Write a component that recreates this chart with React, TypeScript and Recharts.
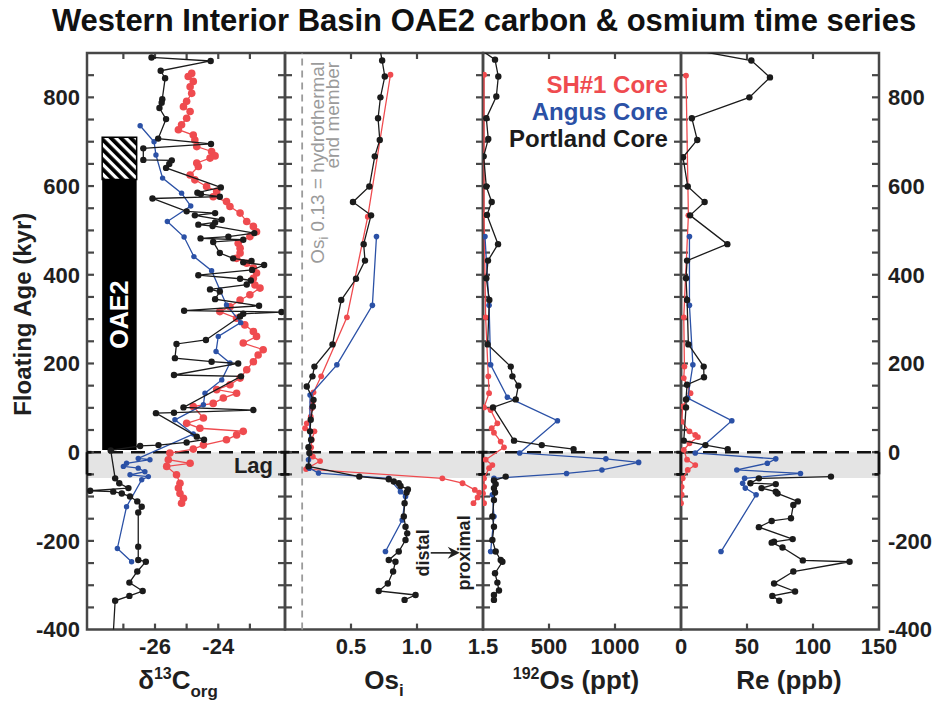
import React from 'react';
import {
  ComposedChart,
  Scatter,
  XAxis,
  YAxis,
  ReferenceArea,
  ReferenceLine,
  ReferenceDot,
} from 'recharts';

const W = 938;
const H = 703;
const PLOT_TOP = 53;
const PLOT_BOTTOM = 629.6;
const X_AXIS_H = 62;
const EDGES = [87, 285, 483, 681, 879];

const FRAME = '#474747';
const INK = '#1f1f1f';
const RED = '#ef4b4f';
const BLUE = '#2b51a6';
const BLACK = '#1b1b1b';

type Pt = [number, number]; // [age kyr, value]

const AGE_DOMAIN: [number, number] = [-400, 900];
const AGE_LABELS = [-400, -200, 0, 200, 400, 600, 800];
const AGE_MINOR = [
  -350, -300, -250, -200, -150, -100, -50, 0, 50, 100, 150, 200, 250, 300, 350,
  400, 450, 500, 550, 600, 650, 700, 750, 800, 850,
];
const LAG: [number, number] = [-58, 0];
const OAE2_SPAN: [number, number] = [5, 615];
const OAE2_HATCH: [number, number] = [615, 710];

const CORES = [
  { name: 'SH#1 Core', color: RED },
  { name: 'Angus Core', color: BLUE },
  { name: 'Portland Core', color: BLACK },
];

// δ13C org (‰)
const c13SH1: Pt[] = [
  [854, -24.84], [847, -24.95], [836, -24.79], [824, -24.89], [809, -24.84], [791, -25.0],
  [779, -25.1], [768, -24.89], [753, -25.0], [738, -25.16], [727, -25.26], [715, -24.79],
  [704, -24.74], [689, -24.68], [678, -24.21], [668, -24.1], [663, -24.26], [652, -24.68],
  [644, -24.63], [625, -24.89], [614, -24.74], [599, -24.37], [588, -24.05], [576, -24.16],
  [565, -23.74], [554, -23.63], [539, -23.31], [520, -23.1], [509, -22.89], [497, -22.79],
  [486, -23.0], [471, -23.37], [460, -23.31], [449, -23.31], [437, -23.42], [426, -23.1],
  [415, -22.89], [404, -22.79], [392, -22.89], [377, -22.84], [370, -22.68], [355, -23.0],
  [343, -23.31], [328, -23.63], [317, -23.95], [302, -23.42], [287, -23.16], [272, -22.89],
  [261, -22.79], [246, -23.21], [231, -22.58], [219, -22.74], [204, -22.89], [186, -23.1],
  [167, -23.31], [152, -23.63], [141, -24.05], [133, -23.42], [122, -23.84], [110, -24.16],
  [103, -24.79], [77, -24.47], [65, -25.0], [54, -24.58], [47, -23.21], [39, -23.42],
  [28, -23.74], [16, -24.47], [7, -24.79], [-2, -25.53], [-17, -25.58], [-25, -24.89],
  [-32, -25.63], [-51, -25.32], [-70, -25.21], [-81, -25.26], [-93, -25.21], [-104, -25.1],
  [-115, -25.16],
];
const c13Angus: Pt[] = [
  [736, -26.47], [700, -26.03], [670, -25.97], [618, -25.76], [584, -25.16], [555, -24.87],
  [520, -25.61], [485, -25.08], [441, -24.77], [409, -24.21], [366, -23.95], [332, -23.74],
  [292, -23.29], [261, -24.0], [227, -24.07], [201, -23.63], [163, -23.89], [133, -24.42],
  [107, -24.47], [73, -25.37], [41, -24.79], [-14, -26.53], [-17, -26.16], [-25, -26.9],
  [-32, -27.0], [-36, -26.53], [-44, -26.32], [-51, -26.79], [-55, -26.21], [-62, -26.42],
  [-123, -26.9], [-217, -27.19], [-247, -26.74],
];
const c13Portland: Pt[] = [
  [890, -26.11], [882, -24.24], [860, -25.82], [843, -25.68], [796, -25.77], [788, -25.79],
  [776, -25.86], [751, -25.65], [707, -25.9], [695, -24.23], [685, -26.37], [659, -26.37],
  [658, -25.47], [650, -25.55], [641, -25.65], [597, -23.92], [585, -24.66], [582, -24.55],
  [576, -23.95], [572, -26.08], [543, -25.0], [539, -24.1], [534, -24.74], [524, -23.89],
  [518, -24.1], [513, -24.63], [510, -24.18], [494, -22.86], [486, -23.68], [482, -24.56],
  [479, -23.21], [474, -24.16], [449, -23.95], [437, -23.53], [431, -22.95], [428, -23.21],
  [422, -22.55], [411, -22.93], [399, -24.63], [391, -23.31], [387, -22.97], [378, -23.1],
  [367, -24.26], [362, -23.95], [345, -24.1], [330, -22.71], [319, -25.08], [316, -22.0],
  [312, -23.21], [306, -23.31], [253, -24.39], [244, -25.32], [212, -25.37], [204, -24.21],
  [200, -23.37], [174, -25.4], [171, -23.28], [101, -25.1], [95, -22.89], [89, -25.4],
  [88, -25.97], [35, -24.68], [28, -24.45], [22, -25.0], [16, -25.89], [14, -26.47],
  [4, -27.4], [-59, -27.26], [-70, -27.13], [-81, -26.84], [-87, -28.05], [-89, -27.32],
  [-93, -27.05], [-100, -26.79], [-111, -26.56], [-123, -26.42], [-136, -26.53], [-213, -26.53],
  [-243, -26.53], [-247, -26.29], [-269, -26.56], [-294, -26.81], [-313, -26.39], [-324, -26.81],
  [-335, -27.26], [-410, -27.32],
];

// Os initial
const osiSH1: Pt[] = [
  [851, 0.799], [531, 0.627], [304, 0.469], [171, 0.274], [135, 0.216], [113, 0.208],
  [99, 0.203], [80, 0.195], [65, 0.165], [54, 0.152], [47, 0.223], [28, 0.203], [11, 0.198],
  [-10, 0.211], [-20, 0.266], [-38, 0.16], [-59, 1.192], [-70, 1.345], [-85, 1.438],
  [-91, 1.471], [-102, 1.459], [-115, 1.428],
];
const osiAngus: Pt[] = [
  [486, 0.693], [331, 0.662], [197, 0.393], [129, 0.19], [-2, 0.185], [-17, 0.178],
  [-36, 0.185], [-47, 0.254], [-59, 0.786], [-89, 0.875], [-100, 0.913], [-153, 0.888],
  [-224, 0.761],
];
const osiPortland: Pt[] = [
  [915, 0.715], [883, 0.736], [847, 0.756], [800, 0.723], [753, 0.705], [704, 0.718],
  [667, 0.68], [599, 0.639], [564, 0.515], [534, 0.652], [469, 0.596], [432, 0.606],
  [391, 0.538], [343, 0.426], [243, 0.36], [193, 0.223], [171, 0.208], [148, 0.165],
  [118, 0.216], [103, 0.211], [73, 0.195], [47, 0.19], [28, 0.198], [11, 0.178], [-2, 0.185],
  [-32, 0.178], [-55, 0.563], [-61, 0.786], [-66, 0.824], [-70, 0.862], [-76, 0.875],
  [-84, 0.931], [-91, 0.921], [-115, 0.906], [-145, 0.9], [-168, 0.913], [-183, 0.926],
  [-198, 0.913], [-224, 0.862], [-243, 0.786], [-247, 0.837], [-269, 0.819], [-296, 0.779],
  [-313, 0.71], [-322, 0.989], [-333, 0.906],
];

// 192Os (ppt)
const os192SH1: Pt[] = [
  [851, 8], [534, 8], [304, 20], [171, 40], [133, 46], [101, 8], [95, 58], [65, 109], [54, 66],
  [44, 83], [24, 134], [11, 159], [-17, 20], [-29, 71], [-36, 46], [-59, 8], [-78, 8],
  [-93, 0], [-115, 8],
];
const os192Angus: Pt[] = [
  [486, 15], [331, 46], [197, 58], [124, 185], [71, 564], [-2, 278], [-15, 931], [-23, 1179],
  [-40, 901], [-48, 633], [-59, 83], [-96, 71], [-145, 83], [-224, 58],
];
const os192PortlandUpper: Pt[] = [
  [908, -20], [885, 91], [847, 116], [802, 101], [753, 25], [706, 40], [667, 5], [599, 25],
  [564, 66], [535, 30], [469, 114], [432, 38], [392, 25], [343, 48], [243, 35], [193, 210],
  [171, 223], [150, 268], [119, 248], [101, 76], [26, 235], [16, 445], [7, 686],
];
const os192PortlandLower: Pt[] = [
  [-55, 172], [-64, 83], [-72, 96], [-81, 83], [-91, 91], [-108, 83], [-145, 71], [-168, 83],
  [-198, 71], [-224, 96], [-243, 134], [-247, 147], [-273, 91], [-294, 109], [-312, 121],
  [-322, 83], [-333, 83],
];

// Re (ppb)
const reSH1: Pt[] = [
  [849, 3.8], [534, 5.6], [304, 2.1], [193, 2.6], [167, 2.1], [133, 7.2], [103, 1.3],
  [69, 0.5], [47, 6.4], [39, 10.8], [34, 12.8], [20, 6.4], [5, 2.1], [-17, 4.6], [-29, 10.8],
  [-40, 5.1], [-59, 1.3], [-78, 0.5], [-96, 0.5], [-115, 0],
];
const reAngus: Pt[] = [
  [486, 6.4], [331, 6.4], [197, 9.0], [122, 5.1], [71, 38.5], [-2, 10.8], [-15, 71.8],
  [-25, 65.4], [-40, 42.3], [-48, 90.5], [-59, 48.2], [-70, 46.7], [-81, 48.7], [-96, 56.9],
  [-224, 30.3],
];
const rePortlandUpper: Pt[] = [
  [912, 0], [883, 53.3], [845, 67.4], [800, 51.8], [753, 8.2], [704, 12.3], [665, 1.5],
  [599, 5.1], [564, 17.9], [534, 6.9], [469, 35.1], [432, 4.6], [392, 3.8], [343, 4.6],
  [243, 5.6], [193, 17.2], [169, 17.4], [152, 4.6], [119, 3.8], [101, 3.8], [26, 2.1],
  [16, 18.5], [7, 35.4],
];
const rePortlandLower: Pt[] = [
  [-55, 113.6], [-59, 59.0], [-70, 52.6], [-72, 71.8], [-81, 61.0], [-89, 71.8], [-93, 73.1],
  [-111, 88.5], [-119, 85.1], [-149, 83.3], [-155, 68.7], [-169, 59.0], [-196, 84.6],
  [-202, 70.5], [-204, 68.7], [-215, 76.9], [-244, 92.3], [-247, 127.7], [-269, 85.1],
  [-296, 70.5], [-314, 86.4], [-324, 69.2], [-335, 74.4],
];

interface Series {
  data: Pt[];
  color: string;
  r: number;
}

interface PanelProps {
  left: number;
  right: number;
  domain: [number, number];
  labelTicks: number[];
  markTicks: number[];
  tickFormat?: (v: number) => string;
  series: Series[];
  title: (props: any) => React.ReactElement;
  leftAxis?: boolean;
  rightAxis?: boolean;
  outerLeft?: boolean;
  outerRight?: boolean;
  lagLabel?: boolean;
  back?: React.ReactNode;
  front?: React.ReactNode;
}

const tickStyle = { fill: INK, fontSize: 22, fontWeight: 700 };

function yTitle({ viewBox }: any) {
  const x = viewBox.x + 14;
  const y = viewBox.y + viewBox.height / 2 - 27;
  return (
    <text x={x} y={y} transform={`rotate(-90 ${x} ${y})`} textAnchor="middle" fill={INK} fontSize={24} fontWeight={700}>
      Floating Age (kyr)
    </text>
  );
}

const makeTitle = (dx: number, body: React.ReactNode) =>
  function AxisTitle({ viewBox }: any) {
    return (
      <text x={viewBox.x + viewBox.width / 2 + dx} y={viewBox.y + 59} textAnchor="middle" fill={INK} fontSize={26} fontWeight={700}>
        {body}
      </text>
    );
  };

const titleC13 = makeTitle(-8, (
  <>
    δ<tspan fontSize={16} dy={-10}>13</tspan>
    <tspan dy={10}>C</tspan>
    <tspan fontSize={17} dy={8}>org</tspan>
  </>
));
const titleOsi = makeTitle(0, (
  <>
    Os<tspan fontSize={17} dy={7}>i</tspan>
  </>
));
const titleOs192 = makeTitle(-6, (
  <>
    <tspan fontSize={16} dy={-10}>192</tspan>
    <tspan dy={10}>Os (ppt)</tspan>
  </>
));
const titleRe = makeTitle(9, <>Re (ppb)</>);

function Panel(p: PanelProps) {
  const [x0, x1] = p.domain;
  const pxX = (x1 - x0) / (p.right - p.left); // data units per pixel, x
  const pxY = (AGE_DOMAIN[1] - AGE_DOMAIN[0]) / (PLOT_BOTTOM - PLOT_TOP);
  const cap = 4.5 * pxX;
  const yTick = 7 * pxX;
  const xTick = 6 * pxY;
  const yLeftW = 70;
  const yRightW = 55;
  const margin = {
    top: PLOT_TOP,
    bottom: H - PLOT_BOTTOM - X_AXIS_H,
    left: p.leftAxis ? p.left - yLeftW : p.left,
    right: p.rightAxis ? W - p.right - yRightW : W - p.right,
  };
  const seg = (key: string, a: { x: number; y: number }, b: { x: number; y: number }, stroke: string, w: number) => (
    <ReferenceLine key={key} segment={[a, b]} stroke={stroke} strokeWidth={w} ifOverflow="visible" />
  );
  const beam = (x: number, l: number, r: number, k: string) => [
    seg(`${k}v`, { x, y: 0 }, { x, y: -50 }, '#111', 2.6),
    seg(`${k}t`, { x: x - l, y: 0 }, { x: x + r, y: 0 }, '#111', 2.6),
    seg(`${k}b`, { x: x - l, y: -50 }, { x: x + r, y: -50 }, '#111', 2.6),
  ];
  // inward tick marks on all four sides of the panel
  const innerTicks = [
    ...AGE_MINOR.map((a) => seg(`yl${a}`, { x: x0, y: a }, { x: x0 + yTick, y: a }, FRAME, 2.2)),
    ...AGE_MINOR.map((a) => seg(`yr${a}`, { x: x1 - yTick, y: a }, { x: x1, y: a }, FRAME, 2.2)),
    ...p.markTicks.map((v) => seg(`xb${v}`, { x: v, y: AGE_DOMAIN[0] }, { x: v, y: AGE_DOMAIN[0] + xTick }, FRAME, 2.2)),
    ...p.markTicks.map((v) => seg(`xt${v}`, { x: v, y: AGE_DOMAIN[1] - xTick }, { x: v, y: AGE_DOMAIN[1] }, FRAME, 2.2)),
  ];

  return (
    <div style={{ position: 'absolute', left: 0, top: 0 }}>
      <ComposedChart width={W} height={H} margin={margin}>
        <defs>
          <pattern id="hatch" patternUnits="userSpaceOnUse" width={7} height={7} patternTransform="rotate(-45)">
            <rect width={7} height={7} fill="#fff" />
            <rect width={3.8} height={7} fill="#000" />
          </pattern>
        </defs>
        <XAxis
          type="number"
          dataKey="v"
          domain={p.domain}
          allowDataOverflow
          ticks={p.labelTicks}
          interval={0}
          tickFormatter={p.tickFormat}
          tickLine={false}
          axisLine={false}
          tickSize={0}
          tickMargin={9}
          height={X_AXIS_H}
          tick={tickStyle}
          label={p.title}
        />
        {p.leftAxis ? (
          <YAxis
            type="number"
            dataKey="age"
            domain={AGE_DOMAIN}
            allowDataOverflow
            ticks={AGE_LABELS}
            interval={0}
            width={yLeftW}
            tickLine={false}
            axisLine={false}
            tickSize={0}
            tickMargin={7}
            tick={tickStyle}
            label={yTitle}
          />
        ) : (
          <YAxis type="number" dataKey="age" domain={AGE_DOMAIN} allowDataOverflow hide />
        )}
        {p.rightAxis && (
          <YAxis
            yAxisId="rl"
            orientation="right"
            type="number"
            domain={AGE_DOMAIN}
            allowDataOverflow
            ticks={AGE_LABELS}
            interval={0}
            width={yRightW}
            tickLine={false}
            axisLine={false}
            tickSize={0}
            tickMargin={9}
            tick={tickStyle}
          />
        )}

        <ReferenceArea
          x1={x0}
          x2={x1}
          y1={LAG[0]}
          y2={LAG[1]}
          fill="#e4e4e4"
          fillOpacity={1}
          stroke="none"
          ifOverflow="visible"
          label={p.lagLabel ? { value: 'Lag', position: 'insideRight', offset: 12, fill: INK, fontSize: 22, fontWeight: 700 } : undefined}
        />
        {p.back}

        {p.series.map((s, i) => (
          <Scatter
            key={i}
            data={s.data.map(([age, v]) => ({ age, v }))}
            fill={s.color}
            line={{ stroke: s.color, strokeWidth: 1.3 }}
            isAnimationActive={false}
            shape={(d: any) => <circle cx={d.cx} cy={d.cy} r={s.r} fill={s.color} />}
          />
        ))}

        <ReferenceLine y={0} stroke="#111" strokeWidth={2.6} strokeDasharray="14 8" ifOverflow="visible" />
        {innerTicks}
        {beam(x0, p.outerLeft ? 0 : cap, cap, 'l')}
        {beam(x1, cap, p.outerRight ? 0 : cap, 'r')}
        <ReferenceArea x1={x0} x2={x1} y1={AGE_DOMAIN[0]} y2={AGE_DOMAIN[1]} fill="none" stroke={FRAME} strokeWidth={2.5} ifOverflow="visible" />
        {p.front}
      </ComposedChart>
    </div>
  );
}

const hydroShape = ({ cx, cy }: any) => (
  <g fill="#9b9b9b" fontSize={19} textAnchor="end">
    <text x={cx + 22} y={cy} transform={`rotate(-90 ${cx + 22} ${cy})`}>
      Os<tspan fontSize={13} dy={4}>i</tspan>
      <tspan dy={-4}> 0.13 = hydrothermal</tspan>
    </text>
    <text x={cx + 37} y={cy} transform={`rotate(-90 ${cx + 37} ${cy})`}>
      end member
    </text>
  </g>
);

const arrowShape = ({ cx, cy }: any) => (
  <g fill={INK} fontSize={18} fontWeight={700} textAnchor="middle">
    <text x={cx - 2} y={cy} transform={`rotate(-90 ${cx - 2} ${cy})`}>distal</text>
    <text x={cx + 39} y={cy} transform={`rotate(-90 ${cx + 39} ${cy})`}>proximal</text>
    <line x1={cx} y1={cy} x2={cx + 22} y2={cy} stroke={INK} strokeWidth={1.6} />
    <path d={`M${cx + 29},${cy} L${cx + 17},${cy - 6} L${cx + 21},${cy} L${cx + 17},${cy + 6} Z`} />
  </g>
);

const legendShape = ({ cx, cy }: any) => (
  <g fontSize={24} fontWeight={700} textAnchor="end">
    {CORES.map((c, i) => (
      <text key={c.name} x={cx} y={cy + i * 27} fill={c.color}>
        {c.name}
      </text>
    ))}
  </g>
);

export default function App() {
  return (
    <div
      style={{
        position: 'absolute',
        left: 0,
        top: 0,
        width: W,
        height: H,
        background: '#fff',
        fontFamily: "'Liberation Sans', Arial, Helvetica, sans-serif",
      }}
    >
      <div
        style={{
          position: 'absolute',
          left: 30,
          width: 908,
          top: 4,
          textAlign: 'center',
          fontSize: 31,
          lineHeight: '34px',
          fontWeight: 700,
          color: '#111',
          whiteSpace: 'nowrap',
        }}
      >
        Western Interior Basin OAE2 carbon &amp; osmium time series
      </div>

      <Panel
        left={EDGES[0]}
        right={EDGES[1]}
        domain={[-28.15, -21.89]}
        labelTicks={[-26, -24]}
        markTicks={[-27, -26, -25, -24, -23]}
        series={[
          { data: c13SH1, color: RED, r: 3.8 },
          { data: c13Angus, color: BLUE, r: 2.7 },
          { data: c13Portland, color: BLACK, r: 3.2 },
        ]}
        title={titleC13}
        leftAxis
        outerLeft
        lagLabel
        back={[
          <ReferenceArea
            key="oae"
            x1={-27.67}
            x2={-26.58}
            y1={OAE2_SPAN[0]}
            y2={OAE2_SPAN[1]}
            fill="#000"
            fillOpacity={1}
            stroke="none"
            label={{ value: 'OAE2', position: 'center', angle: -90, fill: '#fff', fontSize: 25, fontWeight: 700 }}
          />,
          <ReferenceArea
            key="hatch"
            x1={-27.67}
            x2={-26.58}
            y1={OAE2_HATCH[0]}
            y2={OAE2_HATCH[1]}
            fill="url(#hatch)"
            fillOpacity={1}
            stroke="#000"
            strokeWidth={1.5}
          />,
        ]}
      />

      <Panel
        left={EDGES[1]}
        right={EDGES[2]}
        domain={[0, 1.5]}
        labelTicks={[0.5, 1.0, 1.5]}
        markTicks={[0.5, 1.0]}
        tickFormat={(v) => v.toFixed(1)}
        series={[
          { data: osiSH1, color: RED, r: 2.9 },
          { data: osiAngus, color: BLUE, r: 2.8 },
          { data: osiPortland, color: BLACK, r: 3.2 },
        ]}
        title={titleOsi}
        back={[
          <ReferenceLine key="hydro" x={0.13} stroke="#9b9b9b" strokeWidth={1.8} strokeDasharray="7 5" />,
        ]}
        front={[
          <ReferenceDot key="hydroText" x={0.13} y={880} shape={hydroShape} />,
          <ReferenceDot key="arrow" x={1.104} y={-227} shape={arrowShape} />,
        ]}
      />

      <Panel
        left={EDGES[2]}
        right={EDGES[3]}
        domain={[0, 1500]}
        labelTicks={[500, 1000]}
        markTicks={[500, 1000]}
        series={[
          { data: os192SH1, color: RED, r: 2.9 },
          { data: os192Angus, color: BLUE, r: 2.8 },
          { data: os192PortlandUpper, color: BLACK, r: 3.2 },
          { data: os192PortlandLower, color: BLACK, r: 3.2 },
        ]}
        title={titleOs192}
        front={[<ReferenceDot key="legend" x={1400} y={810} shape={legendShape} />]}
      />

      <Panel
        left={EDGES[3]}
        right={EDGES[4]}
        domain={[0, 150]}
        labelTicks={[0, 50, 100, 150]}
        markTicks={[50, 100]}
        series={[
          { data: reSH1, color: RED, r: 2.9 },
          { data: reAngus, color: BLUE, r: 2.8 },
          { data: rePortlandUpper, color: BLACK, r: 3.2 },
          { data: rePortlandLower, color: BLACK, r: 3.2 },
        ]}
        title={titleRe}
        rightAxis
        outerRight
      />
    </div>
  );
}
